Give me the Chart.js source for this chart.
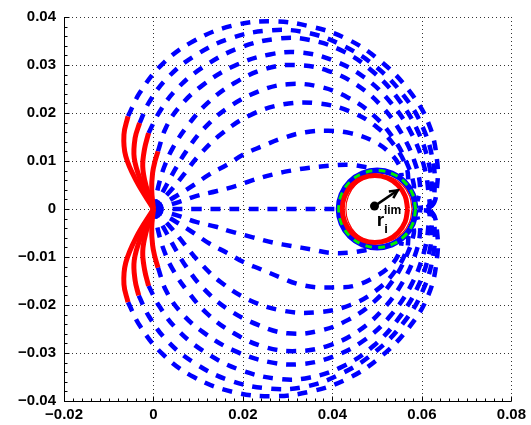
<!DOCTYPE html>
<html>
<head>
<meta charset="utf-8">
<script src="https://cdn.jsdelivr.net/npm/chart.js@4.4.0/dist/chart.umd.min.js"></script>
<style>
  html, body { margin: 0; padding: 0; background: #fff; }
</style>
</head>
<body>
<canvas id="mycanvas" width="531" height="425"></canvas>
<script>
// axis ticks
var xTicks = [-0.02, 0, 0.02, 0.04, 0.06, 0.08];
var yTicks = [-0.04, -0.03, -0.02, -0.01, 0, 0.01, 0.02, 0.03, 0.04];

// red solid starts of the outer lines (upper / lower)
var redU1 = [[0,0],[-0.0038,0.0058],[-0.0062,0.0110],[-0.0066,0.0155],[-0.0057,0.0193]];
var redU2 = [[0,0],[-0.0028,0.0058],[-0.0043,0.0106],[-0.0041,0.0148],[-0.0031,0.0179]];
var redU3 = [[0,0],[-0.0017,0.0050],[-0.0024,0.0088],[-0.0020,0.0125],[-0.0011,0.0158]];
var redU4 = [[0,0],[-0.0004,0.0040],[-0.0002,0.0075],[0.0003,0.0098],[0.0010,0.0120]];
var redL1 = [[0,0],[-0.0038,-0.0058],[-0.0062,-0.0112],[-0.0066,-0.0157],[-0.0057,-0.0194]];
var redL2 = [[0,0],[-0.0028,-0.0058],[-0.0043,-0.0107],[-0.0041,-0.0149],[-0.0033,-0.0180]];
var redL3 = [[0,0],[-0.0017,-0.0050],[-0.0024,-0.0088],[-0.0020,-0.0126],[-0.0011,-0.0160]];
var redL4 = [[0,0],[-0.0004,-0.0040],[-0.0002,-0.0075],[0.0003,-0.0099],[0.0010,-0.0122]];

// blue dashed lines, upper half
var blueU1 = [[-0.0057,0.0193],[-0.0030,0.0243],[0.0020,0.0302],[0.0090,0.0350],[0.0177,0.0382],[0.0267,0.0391],[0.0352,0.0380],[0.0431,0.0355],[0.0505,0.0310],[0.0570,0.0248],[0.0615,0.0178],[0.0634,0.0100],[0.0633,0.0040],[0.0623,0.0008],[0.0592,0.0002]];
var blueU2 = [[-0.0031,0.0179],[-0.0010,0.0222],[0.0030,0.0272],[0.0090,0.0318],[0.0170,0.0355],[0.0260,0.0372],[0.0340,0.0368],[0.0420,0.0342],[0.0495,0.0298],[0.0558,0.0238],[0.0603,0.0168],[0.0626,0.0092],[0.0628,0.0035],[0.0622,0.0007],[0.0592,0.0002]];
var blueU3 = [[-0.0011,0.0158],[0.0012,0.0200],[0.0050,0.0248],[0.0110,0.0295],[0.0190,0.0335],[0.0280,0.0355],[0.0350,0.0352],[0.0425,0.0328],[0.0492,0.0285],[0.0548,0.0228],[0.0592,0.0160],[0.0617,0.0088],[0.0622,0.0032],[0.0620,0.0006],[0.0592,0.0002]];
var blueU4 = [[0.0010,0.0120],[0.0028,0.0170],[0.0060,0.0215],[0.0110,0.0258],[0.0180,0.0298],[0.0260,0.0322],[0.0330,0.0326],[0.0400,0.0310],[0.0470,0.0275],[0.0530,0.0222],[0.0578,0.0155],[0.0606,0.0085],[0.0615,0.0030],[0.0615,0.0006],[0.0592,0.0002]];
var blueU5 = [[0,0],[0.0013,0.0055],[0.0025,0.0090],[0.0043,0.0127],[0.0075,0.0172],[0.0120,0.0220],[0.0180,0.0262],[0.0250,0.0292],[0.0320,0.0300],[0.0390,0.0288],[0.0455,0.0258],[0.0512,0.0212],[0.0556,0.0155],[0.0585,0.0095],[0.0596,0.0045],[0.0590,0.0016]];
var blueU6 = [[0,0],[0.0028,0.0048],[0.0050,0.0085],[0.0073,0.0120],[0.0110,0.0165],[0.0165,0.0210],[0.0235,0.0245],[0.0300,0.0260],[0.0370,0.0255],[0.0435,0.0232],[0.0492,0.0195],[0.0538,0.0145],[0.0568,0.0092],[0.0582,0.0050],[0.0580,0.0032]];
var blueU7 = [[0,0],[0.0040,0.0040],[0.0068,0.0072],[0.0100,0.0110],[0.0150,0.0155],[0.0215,0.0195],[0.0290,0.0218],[0.0367,0.0220],[0.0440,0.0203],[0.0500,0.0170],[0.0542,0.0128],[0.0566,0.0085],[0.0570,0.0056]];
var blueU8 = [[0,0],[0.0051,0.0027],[0.0090,0.0050],[0.0125,0.0072],[0.0166,0.0093],[0.0200,0.0113],[0.0241,0.0130],[0.0290,0.0148],[0.0340,0.0160],[0.0390,0.0163],[0.0440,0.0158],[0.0490,0.0142],[0.0527,0.0118],[0.0550,0.0090],[0.0555,0.0068]];
var blueU9 = [[0,0],[0.0058,0.0015],[0.0095,0.0027],[0.0140,0.0037],[0.0185,0.0048],[0.0222,0.0060],[0.0267,0.0072],[0.0308,0.0080],[0.0349,0.0086],[0.0393,0.0090],[0.0438,0.0092],[0.0478,0.0087]];
var blueMid = [[0,0],[0.0100,0],[0.0200,0],[0.0300,0],[0.0414,0]];

// blue dashed lines, lower half
var blueL1 = [[-0.0057,-0.0194],[-0.0030,-0.0244],[0.0020,-0.0302],[0.0090,-0.0350],[0.0177,-0.0381],[0.0267,-0.0390],[0.0352,-0.0380],[0.0431,-0.0355],[0.0505,-0.0310],[0.0570,-0.0248],[0.0615,-0.0178],[0.0634,-0.0100],[0.0633,-0.0040],[0.0623,-0.0008],[0.0592,-0.0002]];
var blueL2 = [[-0.0033,-0.0180],[-0.0010,-0.0224],[0.0030,-0.0274],[0.0090,-0.0320],[0.0170,-0.0357],[0.0260,-0.0374],[0.0340,-0.0370],[0.0420,-0.0343],[0.0495,-0.0298],[0.0558,-0.0238],[0.0603,-0.0168],[0.0626,-0.0092],[0.0628,-0.0035],[0.0622,-0.0007],[0.0592,-0.0002]];
var blueL3 = [[-0.0011,-0.0160],[0.0012,-0.0201],[0.0050,-0.0248],[0.0110,-0.0295],[0.0190,-0.0334],[0.0280,-0.0354],[0.0350,-0.0351],[0.0425,-0.0327],[0.0492,-0.0285],[0.0548,-0.0228],[0.0592,-0.0160],[0.0617,-0.0088],[0.0622,-0.0032],[0.0620,-0.0006],[0.0592,-0.0002]];
var blueL4 = [[0.0010,-0.0122],[0.0028,-0.0170],[0.0060,-0.0214],[0.0110,-0.0256],[0.0180,-0.0295],[0.0260,-0.0319],[0.0330,-0.0323],[0.0400,-0.0308],[0.0470,-0.0274],[0.0530,-0.0222],[0.0578,-0.0155],[0.0606,-0.0085],[0.0615,-0.0030],[0.0615,-0.0006],[0.0592,-0.0002]];
var blueL5 = [[0,0],[0.0013,-0.0055],[0.0025,-0.0090],[0.0043,-0.0126],[0.0075,-0.0170],[0.0120,-0.0218],[0.0180,-0.0259],[0.0250,-0.0288],[0.0320,-0.0296],[0.0390,-0.0285],[0.0455,-0.0256],[0.0512,-0.0210],[0.0556,-0.0154],[0.0585,-0.0095],[0.0596,-0.0045],[0.0590,-0.0016]];
var blueL6 = [[0,0],[0.0028,-0.0048],[0.0050,-0.0085],[0.0073,-0.0120],[0.0110,-0.0164],[0.0165,-0.0208],[0.0235,-0.0242],[0.0300,-0.0259],[0.0370,-0.0254],[0.0435,-0.0231],[0.0492,-0.0194],[0.0538,-0.0145],[0.0568,-0.0092],[0.0582,-0.0050],[0.0580,-0.0032]];
var blueL7 = [[0,0],[0.0040,-0.0040],[0.0068,-0.0072],[0.0100,-0.0108],[0.0150,-0.0152],[0.0215,-0.0190],[0.0290,-0.0212],[0.0367,-0.0215],[0.0440,-0.0200],[0.0500,-0.0168],[0.0542,-0.0127],[0.0566,-0.0085],[0.0570,-0.0056]];
var blueL8 = [[0,0],[0.0051,-0.0027],[0.0090,-0.0050],[0.0125,-0.0072],[0.0166,-0.0092],[0.0200,-0.0110],[0.0241,-0.0126],[0.0282,-0.0142],[0.0322,-0.0156],[0.0364,-0.0163],[0.0408,-0.0163],[0.0449,-0.0160],[0.0494,-0.0142],[0.0530,-0.0118],[0.0550,-0.0090],[0.0555,-0.0068]];
var blueL9 = [[0,0],[0.0058,-0.0015],[0.0095,-0.0027],[0.0140,-0.0037],[0.0170,-0.0046],[0.0222,-0.0059],[0.0267,-0.0070],[0.0308,-0.0077],[0.0352,-0.0084],[0.0393,-0.0091],[0.0438,-0.0091],[0.0478,-0.0085]];

// circles around the target
var blueRing = [[0.0586,0],[0.05795,0.00306],[0.05608,0.00566],[0.05329,0.00739],[0.0500,0.0080],[0.04671,0.00739],[0.04392,0.00566],[0.04205,0.00306],[0.0414,0],[0.04205,-0.00306],[0.04392,-0.00566],[0.04671,-0.00739],[0.0500,-0.0080],[0.05329,-0.00739],[0.05608,-0.00566],[0.05795,-0.00306],[0.0586,0]];
var redRing = [[0.0568,0],[0.05625,0.00268],[0.05466,0.00495],[0.05229,0.00647],[0.0495,0.0070],[0.04671,0.00647],[0.04434,0.00495],[0.04275,0.00268],[0.0422,0],[0.04275,-0.00268],[0.04434,-0.00495],[0.04671,-0.00647],[0.0495,-0.0070],[0.05229,-0.00647],[0.05466,-0.00495],[0.05625,-0.00268],[0.0568,0]];
var redThin = [[0.0578,0],[0.05724,0.00272],[0.05563,0.00502],[0.05323,0.00656],[0.0504,0.0071],[0.04757,0.00656],[0.04517,0.00502],[0.04356,0.00272],[0.0430,0],[0.04356,-0.00272],[0.04517,-0.00502],[0.04757,-0.00656],[0.0504,-0.0071],[0.05323,-0.00656],[0.05563,-0.00502],[0.05724,-0.00272],[0.0578,0]];

// arrow r_i^lim
var arrowFrom = [0.0494, 0.0006];
var arrowTo = [0.0546, 0.0039];

function toXY(pts) {
  var out = [];
  for (var i in pts) out.push({x: pts[i][0], y: pts[i][1]});
  return out;
}

function line(pts, color, width, dash, order, tension) {
  return {
    data: toXY(pts),
    showLine: true,
    borderColor: color,
    backgroundColor: color,
    borderWidth: width,
    borderDash: dash,
    pointRadius: 0,
    pointHoverRadius: 0,
    tension: tension === undefined ? 0.4 : tension,
    fill: false,
    order: order
  };
}

var BLUE = '#0000ff';
var RED = '#ff0000';
var dash = [10, 9];

var datasets = [];
var blues = [blueU1, blueU2, blueU3, blueU4, blueU5, blueU6, blueU7, blueU8, blueU9, blueMid,
             blueL1, blueL2, blueL3, blueL4, blueL5, blueL6, blueL7, blueL8, blueL9];
for (var b in blues) datasets.push(line(blues[b], BLUE, 4.5, dash, 10));
datasets.push(line(blueRing, BLUE, 6, [], 8));
datasets.push(line(blueRing, '#00ee00', 3, [7, 6], 7));
datasets.push(line(redThin, RED, 1.2, [], 6));
datasets.push(line(redRing, RED, 5, [], 5));
var reds = [redU1, redU2, redU3, redU4, redL1, redL2, redL3, redL4];
for (var r in reds) datasets.push(line(reds[r], RED, 5, [], 4));

function fmt(v) {
  var n = Math.round(v * 100) / 100;
  if (n === 0) return '0';
  return (n < 0 ? '\u2212' : '') + Math.abs(n).toFixed(2);
}

var axesPlugin = {
  id: 'matlabAxes',
  beforeDatasetsDraw: function(chart) {
    var ctx = chart.ctx, a = chart.chartArea;
    var xs = chart.scales.x, ys = chart.scales.y;
    ctx.save();
    ctx.strokeStyle = 'rgba(0,0,0,0.8)';
    ctx.lineWidth = 1;
    ctx.setLineDash([1, 3]);
    for (var i in xTicks) {
      var px = Math.round(xs.getPixelForValue(xTicks[i])) + 0.5;
      ctx.beginPath(); ctx.moveTo(px, a.top); ctx.lineTo(px, a.bottom); ctx.stroke();
    }
    for (var j in yTicks) {
      var py = Math.round(ys.getPixelForValue(yTicks[j])) + 0.5;
      ctx.beginPath(); ctx.moveTo(a.left, py); ctx.lineTo(a.right, py); ctx.stroke();
    }
    ctx.restore();
  },
  afterDatasetsDraw: function(chart) {
    var ctx = chart.ctx, a = chart.chartArea;
    var xs = chart.scales.x, ys = chart.scales.y;
    ctx.save();
    // arrow and dot
    var x0 = xs.getPixelForValue(arrowFrom[0]), y0 = ys.getPixelForValue(arrowFrom[1]);
    var x1 = xs.getPixelForValue(arrowTo[0]), y1 = ys.getPixelForValue(arrowTo[1]);
    ctx.strokeStyle = '#000';
    ctx.fillStyle = '#000';
    ctx.lineWidth = 2.5;
    ctx.beginPath(); ctx.moveTo(x0, y0); ctx.lineTo(x1, y1); ctx.stroke();
    var ang = Math.atan2(y1 - y0, x1 - x0);
    ctx.beginPath();
    ctx.moveTo(x1 - 9 * Math.cos(ang - 0.45), y1 - 9 * Math.sin(ang - 0.45));
    ctx.lineTo(x1, y1);
    ctx.lineTo(x1 - 9 * Math.cos(ang + 0.45), y1 - 9 * Math.sin(ang + 0.45));
    ctx.stroke();
    ctx.beginPath(); ctx.arc(x0, y0, 4.5, 0, Math.PI * 2); ctx.fill();
    // label
    ctx.textBaseline = 'alphabetic';
    ctx.textAlign = 'left';
    ctx.font = 'bold 12px "Liberation Sans", Arial, sans-serif';
    ctx.fillText('lim', xs.getPixelForValue(0.0515), ys.getPixelForValue(-0.0011));
    ctx.font = 'bold 19px "Liberation Sans", Arial, sans-serif';
    ctx.fillText('r', xs.getPixelForValue(0.0499), ys.getPixelForValue(-0.0036));
    ctx.font = 'bold 13px "Liberation Sans", Arial, sans-serif';
    ctx.fillText('i', xs.getPixelForValue(0.0516), ys.getPixelForValue(-0.0049));

    // axis lines and inward ticks
    ctx.setLineDash([]);
    ctx.lineWidth = 1;
    ctx.strokeStyle = '#000';
    var L = Math.round(a.left) + 0.5, B = Math.round(a.bottom) + 0.5;
    ctx.beginPath(); ctx.moveTo(L, a.top); ctx.lineTo(L, B); ctx.lineTo(a.right, B); ctx.stroke();
    ctx.beginPath();
    for (var v = -0.04; v <= 0.0401; v += 0.002) {
      var py = Math.round(ys.getPixelForValue(v)) + 0.5;
      var major = Math.abs(v * 100 - Math.round(v * 100)) < 0.01;
      ctx.moveTo(L, py); ctx.lineTo(L + (major ? 5 : 3), py);
    }
    for (var u = -0.02; u <= 0.0801; u += 0.002) {
      var px = Math.round(xs.getPixelForValue(u)) + 0.5;
      var maj = Math.abs(u * 50 - Math.round(u * 50)) < 0.01;
      ctx.moveTo(px, B); ctx.lineTo(px, B - (maj ? 5 : 3));
    }
    ctx.stroke();
    ctx.restore();
  }
};

var tickFont = {family: '"Liberation Sans", Arial, Helvetica, sans-serif', size: 15, weight: 'bold'};

var ctx = document.getElementById('mycanvas');
var chart = new Chart(ctx, {
  type: 'scatter',
  data: {datasets: datasets},
  plugins: [axesPlugin],
  options: {
    responsive: false,
    devicePixelRatio: 1,
    animation: false,
    events: [],
    layout: {padding: {left: 0, top: 15, right: 19, bottom: 0}},
    plugins: {legend: {display: false}, tooltip: {enabled: false}},
    scales: {
      x: {
        type: 'linear', min: -0.02, max: 0.08,
        afterBuildTicks: function(s) { s.ticks = xTicks.map(function(v) { return {value: v}; }); },
        afterFit: function(s) { s.height = 24; },
        grid: {display: false, drawTicks: false},
        border: {display: false},
        ticks: {font: tickFont, color: '#000', padding: 5, maxRotation: 0, autoSkip: false, callback: fmt}
      },
      y: {
        type: 'linear', min: -0.04, max: 0.04,
        afterBuildTicks: function(s) { s.ticks = yTicks.map(function(v) { return {value: v}; }); },
        afterFit: function(s) { s.width = 64; },
        grid: {display: false, drawTicks: false},
        border: {display: false},
        ticks: {font: tickFont, color: '#000', padding: 8, autoSkip: false, callback: fmt}
      }
    }
  }
});
</script>
</body>
</html>
